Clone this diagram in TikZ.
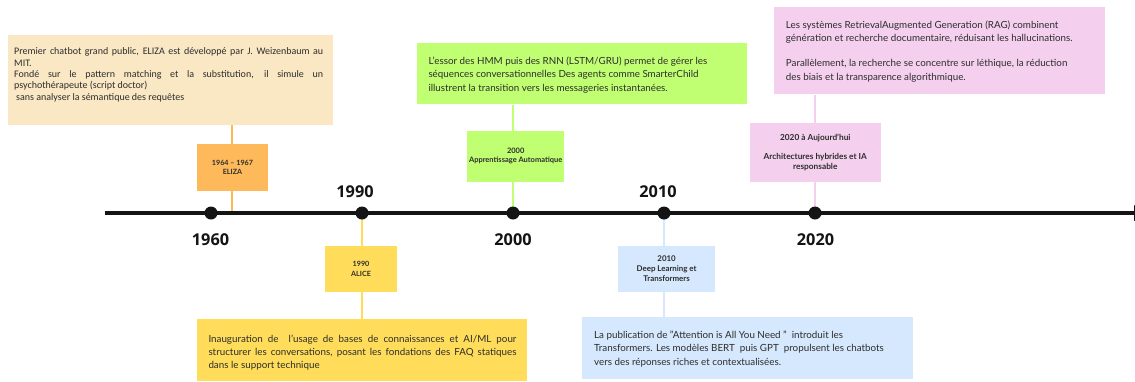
\documentclass[tikz,border=0pt]{standalone}
\usepackage{fontspec}
\setmainfont{Lato}
\newfontfamily\yearfont{Open Sans}
\newfontfamily\narrowfont{Carlito}
\usetikzlibrary{arrows.meta}

\definecolor{beige}{RGB}{250,232,196}
\definecolor{orangeC}{RGB}{253,185,90}
\definecolor{yellowC}{RGB}{255,221,90}
\definecolor{greenC}{RGB}{193,255,114}
\definecolor{blueC}{RGB}{213,232,253}
\definecolor{pinkC}{RGB}{244,208,238}
\definecolor{ink}{RGB}{45,45,45}
\definecolor{axis}{RGB}{20,20,20}

% a justified line of a given width
\newcommand{\fullline}[2]{\hbox to #1{\spaceskip=\fontdimen2\font plus 20pt minus 1pt\relax #2}}

\begin{document}
\begin{tikzpicture}[x=1pt,y=-1pt,
  card/.style={draw=none, inner sep=0pt, rectangle},
  body/.style={inner sep=0pt, text=ink, font=\fontsize{9.8}{13.2}\selectfont, align=left},
  tag/.style={inner sep=0pt, text=ink, align=center, font=\bfseries\fontsize{7.2}{9.7}\selectfont},
  year/.style={inner sep=0pt, text=axis, font=\yearfont\bfseries\fontsize{16.3}{18}\selectfont},
  stem/.style={line width=2pt},
]
\useasboundingbox (0,0) rectangle (1135,381);
\fill[white] (0,0) rectangle (1135,381);

% --- axis end points and the ELIZA stem foot ---
\coordinate (tl0) at (105,213);
\coordinate (tlEnd) at (1149,213);
\coordinate (s60) at (232,213);
\coordinate (d60) at (211,213);
\coordinate (d90) at (362,213);
\coordinate (d00) at (513,213);
\coordinate (d10) at (664,213);
\coordinate (d20) at (815,213);

% --- cards ---
\node[card, fill=beige, minimum width=325pt, minimum height=90pt] (elizaText) at (170.5,80) {};
\node[card, fill=orangeC, minimum width=71.5pt, minimum height=46.5pt] (eliza) at (232.5,167.5) {};

\node[card, fill=yellowC, minimum width=71.5pt, minimum height=46pt] (alice) at (361,268.7) {};
\node[card, fill=yellowC, minimum width=330pt, minimum height=62pt] (aliceText) at (361.7,350) {};

\node[card, fill=greenC, minimum width=330.5pt, minimum height=61pt] (mlText) at (582,73.8) {};
\node[card, fill=greenC, minimum width=96.5pt, minimum height=51pt] (ml) at (515.7,156.2) {};

\node[card, fill=blueC, minimum width=96.5pt, minimum height=45.7pt] (dl) at (666.6,268.8) {};
\node[card, fill=blueC, minimum width=330.5pt, minimum height=62.3pt] (dlText) at (747.6,347.9) {};

\node[card, fill=pinkC, minimum width=330.7pt, minimum height=87pt] (iaText) at (939.7,50.8) {};
\node[card, fill=pinkC, minimum width=130.7pt, minimum height=58.4pt] (ia) at (815.3,152.5) {};

% stems from cards to the axis
\draw[stem, orangeC] (elizaText.south -| s60) -- (eliza.north -| s60);
\draw[stem, orangeC] (eliza.south -| s60) -- (s60);
\draw[stem, yellowC] (d90) -- (alice.north -| d90);
\draw[stem, yellowC] (alice.south -| d90) -- (aliceText.north -| d90);
\draw[stem, greenC] (mlText.south -| d00) -- (ml.north -| d00);
\draw[stem, greenC] (ml.south -| d00) -- (d00);
\draw[stem, blueC] (d10) -- (dl.north -| d10);
\draw[stem, blueC] (dl.south -| d10) -- (dlText.north -| d10);
\draw[stem, pinkC] (iaText.south -| d20) -- (ia.north -| d20);
\draw[stem, pinkC] (ia.south -| d20) -- (d20);

% --- timeline axis and year markers ---
\draw[line width=3.4pt, axis, -{Triangle[length=15pt,width=15pt]}] (tl0) -- (tlEnd);
\foreach \d in {d60,d90,d00,d10,d20} \fill[axis] (\d) circle (6.5pt);

\node[year] (y60) at (210.5,239.5) {1960};
\node[year] (y90) at (355,191.5) {1990};
\node[year] (y00) at (513,239.5) {2000};
\node[year] (y10) at (658,191.5) {2010};
\node[year] (y20) at (815.5,239.5) {2020};

% --- card texts ---
\node[body, anchor=north west, font=\narrowfont\fontsize{10}{11.4}\selectfont] (t60) at (14,47.5) {%
\fullline{309pt}{Premier chatbot grand public, ELIZA est développé par J. Weizenbaum au}\\
MIT.\\
\fullline{309pt}{Fondé sur le pattern matching et la substitution, il simule un}\\
psychothérapeute (script doctor)\\
\hspace*{2pt}sans analyser la sémantique des requêtes};

\node[tag] (l60) at (eliza) {1964 – 1967\\ELIZA};
\node[tag] (l90) at (alice) {1990\\ALICE};
\node[tag, font=\bfseries\fontsize{7.5}{9.3}\selectfont] (l00) at (ml) {2000\\Apprentissage Automatique};
\node[tag, font=\bfseries\fontsize{7.9}{10}\selectfont] (l10) at (dl) {2010\\Deep Learning et\\Transformers};
\node[tag, font=\bfseries\fontsize{8.3}{9.8}\selectfont] (l20) at (ia) {2020 à Aujourd’hui\\[9pt]Architectures hybrides et IA\\responsable};

\node[body, anchor=west] (t90) at (208.3,352.3) {%
\fullline{308pt}{Inauguration de\ \ l’usage de bases de connaissances et AI/ML pour}\\
\fullline{308pt}{structurer les conversations, posant les fondations des FAQ statiques}\\
dans le support technique};

\node[body, anchor=west] (t00) at (428.3,75) {%
L’essor des HMM puis des RNN (LSTM/GRU) permet de gérer les\\
séquences conversationnelles Des agents comme SmarterChild\\
illustrent la transition vers les messageries instantanées.};

\node[body, anchor=west] (t10) at (594,349) {%
La publication de "Attention is All You Need "\ \ introduit les\\
Transformers. Les modèles BERT\ \ puis GPT\ \ propulsent les chatbots\\
vers des réponses riches et contextualisées.};

\node[body, anchor=west] (t20) at (785.7,51.3) {%
Les systèmes RetrievalAugmented Generation (RAG) combinent\\
génération et recherche documentaire, réduisant les hallucinations.\\[12pt]
Parallèlement, la recherche se concentre sur léthique, la réduction\\
des biais et la transparence algorithmique.};
\end{tikzpicture}
\end{document}
